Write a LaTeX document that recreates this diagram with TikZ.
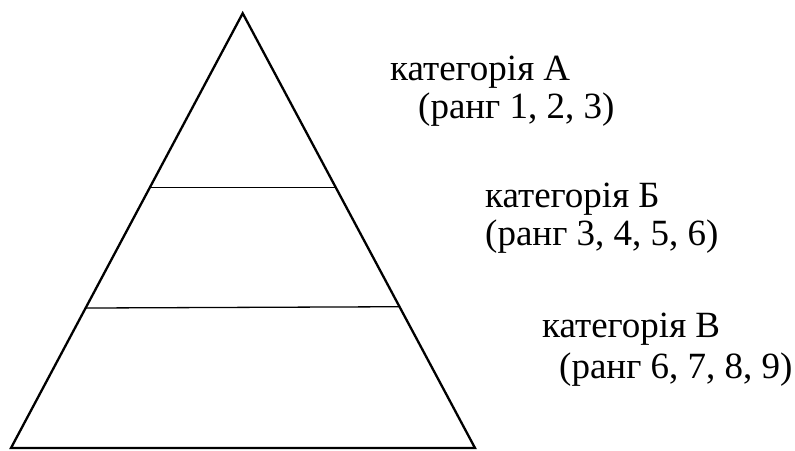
\documentclass[tikz,border=0pt]{standalone}
\usepackage{fontspec}
\setmainfont{Liberation Serif}
\usepackage{tikz}
\usetikzlibrary{positioning,calc}
\tikzset{
  side/.style={line width=2.3pt,line join=miter},
  level/.style={line width=1.3pt},
  catlabel/.style={anchor=base west,inner sep=0pt,font=\fontsize{37}{41}\selectfont}
}

\begin{document}
\begin{tikzpicture}[x=1pt,y=-1pt]
\useasboundingbox (0,0) rectangle (795,450);
% pyramid
\coordinate (apex) at (242.7,13.3);
\coordinate (baseL) at (11,448);
\coordinate (baseR) at (475,448);
\draw[side] (baseL) -- (apex) -- (baseR) -- cycle;
% level lines
\coordinate (l1L) at ($(apex)!0.40!(baseL)$);
\coordinate (l1R) at ($(apex)!0.40!(baseR)$);
\coordinate (l2L) at ($(apex)!0.678!(baseL)$);
\coordinate (l2R) at ($(apex)!0.675!(baseR)$);
\draw[level] (l1L) -- (l1R);
\draw[level] (l2L) -- (l2R);
% labels
\node[catlabel] (catA) at (390,80) {категорія А};
\node[catlabel] (rankA) at (418,118) {(ранг 1, 2, 3)};
\node[catlabel] (catB) at (485,207) {категорія Б};
\node[catlabel] (rankB) at (485,245) {(ранг 3, 4, 5, 6)};
\node[catlabel] (catC) at (542,337) {категорія В};
\node[catlabel] (rankC) at (559,378) {(ранг 6, 7, 8, 9)};
\end{tikzpicture}
\end{document}
